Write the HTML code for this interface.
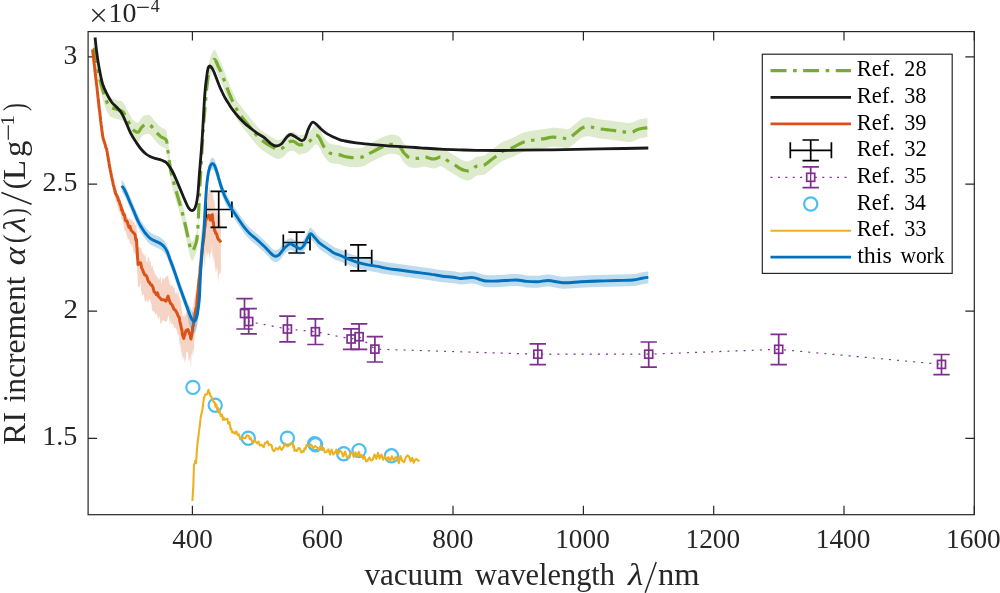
<!DOCTYPE html>
<html><head><meta charset="utf-8"><style>
html,body{margin:0;padding:0;background:#fff;width:1000px;height:593px;overflow:hidden;}
svg{display:block;font-family:"Liberation Serif",serif;will-change:transform;}
</style></head><body>
<svg width="1000" height="593" viewBox="0 0 1000 593">
<rect width="1000" height="593" fill="#fff"/>
<defs><clipPath id="ax"><rect x="88.1" y="31.6" width="886.2" height="483.1"/></clipPath></defs>
<rect x="88.1" y="31.6" width="886.2" height="483.1" fill="none" stroke="#262626" stroke-width="1.2"/>
<path d="M192.4,514.7 V505.7 M192.4,31.6 V40.6 M322.7,514.7 V505.7 M322.7,31.6 V40.6 M453.0,514.7 V505.7 M453.0,31.6 V40.6 M583.4,514.7 V505.7 M583.4,31.6 V40.6 M713.7,514.7 V505.7 M713.7,31.6 V40.6 M844.0,514.7 V505.7 M844.0,31.6 V40.6 M974.3,514.7 V505.7 M974.3,31.6 V40.6 M88.1,438.4 H97.1 M974.3,438.4 H965.3 M88.1,311.2 H97.1 M974.3,311.2 H965.3 M88.1,184.1 H97.1 M974.3,184.1 H965.3 M88.1,56.9 H97.1 M974.3,56.9 H965.3" stroke="#262626" stroke-width="1.2" fill="none"/>
<g clip-path="url(#ax)">
<path d="M93.6,34.8 C93.8,36.1 94.5,39.3 95.0,42.5 C95.5,45.7 95.9,49.5 96.7,54.2 C97.5,59.0 99.0,66.2 100.1,71.0 C101.2,75.8 102.4,79.2 103.5,82.8 C104.6,86.4 105.8,90.1 106.9,92.5 C108.0,94.9 109.1,96.2 110.2,97.3 C111.3,98.4 112.4,98.5 113.5,98.9 C114.6,99.3 115.9,99.6 117.0,99.9 C118.1,100.2 119.0,100.4 120.0,100.8 C121.0,101.2 121.8,100.8 123.0,102.3 C124.2,103.8 125.9,107.2 127.1,109.5 C128.3,111.8 129.4,114.2 130.4,116.0 C131.4,117.8 132.2,119.0 133.0,120.0 C133.8,121.0 134.5,121.6 135.4,122.0 C136.3,122.4 137.5,123.2 138.5,122.5 C139.5,121.8 140.4,119.2 141.5,118.0 C142.6,116.8 143.7,115.8 145.0,115.3 C146.3,114.8 147.9,114.5 149.1,114.9 C150.3,115.3 151.1,116.5 152.0,117.5 C152.9,118.5 153.2,119.4 154.7,121.0 C156.1,122.6 158.8,125.5 160.7,127.1 C162.6,128.7 165.1,128.4 166.2,130.4 C167.3,132.4 167.1,135.8 167.5,138.8 C167.9,141.8 168.5,145.3 168.9,148.3 C169.3,151.3 169.6,154.3 170.0,157.0 C170.4,159.7 171.0,162.2 171.5,164.5 C172.0,166.8 172.1,167.3 173.1,170.9 C174.1,174.5 176.0,181.1 177.5,186.2 C179.0,191.3 180.4,196.0 181.9,201.6 C183.4,207.2 185.2,215.2 186.3,220.0 C187.4,224.8 187.8,227.4 188.5,230.5 C189.2,233.6 189.8,236.7 190.4,238.5 C191.0,240.3 191.5,241.2 192.0,241.5 C192.5,241.8 193.1,240.9 193.6,240.0 C194.1,239.1 194.6,237.7 195.2,236.0 C195.8,234.3 196.4,233.2 196.9,230.0 C197.4,226.8 197.7,222.2 198.0,216.5 C198.3,210.8 198.5,206.0 199.0,195.5 C199.5,185.0 200.6,164.4 201.2,153.4 C201.8,142.4 202.3,136.1 202.7,129.3 C203.1,122.5 203.3,119.0 203.8,112.5 C204.3,106.0 205.1,97.3 205.7,90.5 C206.3,83.7 206.8,76.8 207.5,71.5 C208.2,66.2 209.2,61.8 210.0,58.5 C210.8,55.2 211.8,53.5 212.5,52.0 C213.2,50.5 213.8,49.8 214.4,49.8 C215.0,49.8 215.6,50.9 216.2,52.0 C216.8,53.1 217.1,54.5 218.0,56.4 C218.9,58.3 220.3,60.8 221.5,63.5 C222.7,66.2 223.8,69.8 225.0,72.9 C226.2,76.0 227.4,79.3 228.6,82.3 C229.8,85.2 230.7,87.6 232.1,90.6 C233.5,93.5 235.2,97.2 236.8,100.0 C238.4,102.8 240.0,104.9 241.6,107.1 C243.2,109.3 244.6,110.9 246.3,113.0 C248.0,115.1 249.6,117.1 251.6,119.6 C253.6,122.0 256.1,125.4 258.3,127.7 C260.6,129.9 262.9,131.5 265.1,133.1 C267.4,134.7 269.8,136.1 271.8,137.2 C273.8,138.3 275.4,139.7 277.2,139.9 C279.0,140.1 280.8,139.6 282.6,138.5 C284.4,137.4 286.2,134.2 288.0,133.1 C289.8,132.0 291.6,131.5 293.4,131.8 C295.2,132.2 297.0,134.8 298.8,135.2 C300.6,135.6 302.4,135.1 304.2,134.5 C306.0,133.9 307.8,133.3 309.6,131.8 C311.4,130.3 313.4,126.4 315.0,125.7 C316.6,125.0 317.8,126.0 319.1,127.7 C320.5,129.4 321.5,133.3 323.1,135.8 C324.7,138.3 326.7,141.1 328.5,142.6 C330.3,144.1 332.0,144.1 333.9,144.6 C335.8,145.1 338.1,145.0 340.0,145.4 C341.9,145.8 342.9,146.6 345.0,147.0 C347.1,147.4 349.7,148.0 352.4,148.1 C355.1,148.2 359.1,148.0 361.4,147.7 C363.7,147.3 364.6,146.7 366.0,146.0 C367.4,145.3 368.3,144.5 370.0,143.6 C371.7,142.7 373.9,141.6 376.0,140.5 C378.1,139.4 380.8,138.1 382.6,137.3 C384.4,136.5 385.6,135.9 387.0,135.5 C388.4,135.1 389.7,134.9 391.0,134.8 C392.3,134.7 393.6,134.8 395.0,135.1 C396.4,135.4 398.0,135.5 399.4,136.8 C400.8,138.1 402.4,141.4 403.6,142.9 C404.8,144.4 405.6,145.1 406.5,146.0 C407.4,146.9 408.1,147.6 409.2,148.1 C410.3,148.6 411.5,148.7 413.0,148.8 C414.5,148.9 416.5,148.9 418.0,148.8 C419.5,148.7 420.7,148.2 422.0,148.0 C423.3,147.8 424.8,147.6 426.0,147.7 C427.2,147.8 428.3,148.5 429.5,148.8 C430.7,149.1 431.8,149.5 433.0,149.5 C434.2,149.5 435.8,149.1 437.0,148.7 C438.2,148.3 439.3,147.3 440.5,147.3 C441.7,147.3 442.8,148.0 444.0,148.7 C445.2,149.4 446.2,150.3 448.0,151.5 C449.8,152.7 452.8,154.4 455.0,155.7 C457.2,157.0 459.3,158.6 461.0,159.5 C462.7,160.4 463.7,160.7 465.0,161.0 C466.3,161.3 467.4,161.6 468.7,161.3 C469.9,161.1 471.3,160.2 472.5,159.5 C473.7,158.8 474.7,157.4 476.0,156.9 C477.3,156.4 479.1,156.5 480.5,156.3 C481.9,156.1 482.8,156.3 484.4,155.5 C486.0,154.7 488.1,152.8 490.0,151.3 C491.9,149.8 494.1,148.2 496.0,146.7 C497.9,145.2 499.9,143.5 501.6,142.5 C503.3,141.5 504.2,141.2 506.0,140.5 C507.8,139.8 509.5,139.4 512.4,138.1 C515.3,136.8 519.6,134.0 523.2,132.7 C526.8,131.4 530.4,131.1 534.0,130.5 C537.6,129.9 541.8,129.6 544.8,129.1 C547.8,128.6 549.3,127.8 552.0,127.7 C554.7,127.5 558.3,128.0 561.0,128.2 C563.7,128.4 565.8,129.8 568.2,129.1 C570.6,128.3 573.0,125.5 575.4,123.7 C577.8,121.9 580.2,119.3 582.6,118.3 C585.0,117.2 587.1,117.2 589.8,117.4 C592.5,117.6 595.5,118.7 598.8,119.2 C602.1,119.7 606.0,120.0 609.6,120.5 C613.2,121.0 616.8,121.5 620.4,121.9 C624.0,122.3 628.2,123.2 631.2,122.8 C634.2,122.4 635.7,120.4 638.4,119.7 C641.1,118.9 645.9,118.5 647.4,118.3 L647.4,137.3 C645.9,137.5 641.1,137.9 638.4,138.7 C635.7,139.4 634.2,141.4 631.2,141.8 C628.2,142.2 624.0,141.3 620.4,140.9 C616.8,140.5 613.2,139.9 609.6,139.5 C606.0,139.1 602.1,138.7 598.8,138.2 C595.5,137.7 592.5,136.6 589.8,136.4 C587.1,136.2 585.0,136.2 582.6,137.3 C580.2,138.4 577.8,140.9 575.4,142.7 C573.0,144.5 570.6,147.3 568.2,148.1 C565.8,148.8 563.7,147.4 561.0,147.2 C558.3,147.0 554.7,146.5 552.0,146.7 C549.3,146.8 547.8,147.6 544.8,148.1 C541.8,148.6 537.6,148.9 534.0,149.5 C530.4,150.1 526.8,150.4 523.2,151.7 C519.6,153.0 515.3,155.8 512.4,157.1 C509.5,158.4 507.8,158.8 506.0,159.5 C504.2,160.2 503.3,160.5 501.6,161.5 C499.9,162.5 497.9,164.2 496.0,165.7 C494.1,167.2 491.9,168.8 490.0,170.3 C488.1,171.8 486.0,173.7 484.4,174.5 C482.8,175.3 481.9,175.1 480.5,175.3 C479.1,175.5 477.3,175.4 476.0,175.9 C474.7,176.4 473.7,177.8 472.5,178.5 C471.3,179.2 469.9,180.1 468.7,180.3 C467.4,180.6 466.3,180.3 465.0,180.0 C463.7,179.7 462.7,179.4 461.0,178.5 C459.3,177.6 457.2,176.0 455.0,174.7 C452.8,173.4 449.8,171.7 448.0,170.5 C446.2,169.3 445.2,168.4 444.0,167.7 C442.8,167.0 441.7,166.3 440.5,166.3 C439.3,166.3 438.2,167.3 437.0,167.7 C435.8,168.1 434.2,168.5 433.0,168.5 C431.8,168.5 430.7,168.1 429.5,167.8 C428.3,167.5 427.2,166.8 426.0,166.7 C424.8,166.6 423.3,166.8 422.0,167.0 C420.7,167.2 419.5,167.7 418.0,167.8 C416.5,167.9 414.5,167.9 413.0,167.8 C411.5,167.7 410.3,167.6 409.2,167.1 C408.1,166.6 407.4,165.9 406.5,165.0 C405.6,164.1 404.8,163.4 403.6,161.9 C402.4,160.4 400.8,157.1 399.4,155.8 C398.0,154.5 396.4,154.4 395.0,154.1 C393.6,153.8 392.3,153.7 391.0,153.8 C389.7,153.9 388.4,154.1 387.0,154.5 C385.6,154.9 384.4,155.5 382.6,156.3 C380.8,157.1 378.1,158.4 376.0,159.5 C373.9,160.6 371.7,161.7 370.0,162.6 C368.3,163.5 367.4,164.3 366.0,165.0 C364.6,165.7 363.7,166.3 361.4,166.7 C359.1,167.0 355.1,167.2 352.4,167.1 C349.7,167.0 347.1,166.4 345.0,166.0 C342.9,165.6 341.9,164.8 340.0,164.4 C338.1,164.0 335.8,164.1 333.9,163.6 C332.0,163.1 330.3,163.1 328.5,161.6 C326.7,160.1 324.7,157.3 323.1,154.8 C321.5,152.3 320.5,148.4 319.1,146.7 C317.8,145.0 316.6,144.0 315.0,144.7 C313.4,145.4 311.4,149.3 309.6,150.8 C307.8,152.3 306.0,152.9 304.2,153.5 C302.4,154.1 300.6,154.6 298.8,154.2 C297.0,153.8 295.2,151.2 293.4,150.8 C291.6,150.5 289.8,151.0 288.0,152.1 C286.2,153.2 284.4,156.4 282.6,157.5 C280.8,158.6 279.0,159.1 277.2,158.9 C275.4,158.7 273.8,157.3 271.8,156.2 C269.8,155.1 267.4,153.7 265.1,152.1 C262.9,150.5 260.6,148.9 258.3,146.7 C256.1,144.4 253.6,141.0 251.6,138.6 C249.6,136.2 248.0,134.1 246.3,132.0 C244.6,129.9 243.2,128.3 241.6,126.1 C240.0,123.9 238.4,121.8 236.8,119.0 C235.2,116.2 233.5,112.5 232.1,109.6 C230.7,106.6 229.8,104.2 228.6,101.3 C227.4,98.3 226.2,95.0 225.0,91.9 C223.8,88.8 222.7,85.2 221.5,82.5 C220.3,79.8 218.9,77.3 218.0,75.4 C217.1,73.5 216.8,72.1 216.2,71.0 C215.6,69.9 215.0,68.8 214.4,68.8 C213.8,68.8 213.2,69.5 212.5,71.0 C211.8,72.5 210.8,74.2 210.0,77.5 C209.2,80.8 208.2,85.2 207.5,90.5 C206.8,95.8 206.3,102.7 205.7,109.5 C205.1,116.3 204.3,125.0 203.8,131.5 C203.3,138.0 203.1,141.5 202.7,148.3 C202.3,155.1 201.8,161.4 201.2,172.4 C200.6,183.4 199.5,204.0 199.0,214.5 C198.5,225.0 198.3,229.8 198.0,235.5 C197.7,241.2 197.4,245.8 196.9,249.0 C196.4,252.2 195.8,253.3 195.2,255.0 C194.6,256.7 194.1,258.1 193.6,259.0 C193.1,259.9 192.5,260.8 192.0,260.5 C191.5,260.2 191.0,259.3 190.4,257.5 C189.8,255.7 189.2,252.6 188.5,249.5 C187.8,246.4 187.4,243.8 186.3,239.0 C185.2,234.2 183.4,226.2 181.9,220.6 C180.4,215.0 179.0,210.3 177.5,205.2 C176.0,200.1 174.1,193.5 173.1,189.9 C172.1,186.3 172.0,185.8 171.5,183.5 C171.0,181.2 170.4,178.7 170.0,176.0 C169.6,173.3 169.3,170.3 168.9,167.3 C168.5,164.3 167.9,160.8 167.5,157.8 C167.1,154.8 167.3,151.4 166.2,149.4 C165.1,147.4 162.6,147.7 160.7,146.1 C158.8,144.5 156.1,141.6 154.7,140.0 C153.2,138.4 152.9,137.5 152.0,136.5 C151.1,135.5 150.3,134.3 149.1,133.9 C147.9,133.5 146.3,133.8 145.0,134.3 C143.7,134.8 142.6,135.8 141.5,137.0 C140.4,138.2 139.5,140.8 138.5,141.5 C137.5,142.2 136.3,141.4 135.4,141.0 C134.5,140.6 133.8,140.0 133.0,139.0 C132.2,138.0 131.4,136.8 130.4,135.0 C129.4,133.2 128.3,130.8 127.1,128.5 C125.9,126.2 124.2,122.8 123.0,121.3 C121.8,119.8 121.0,120.2 120.0,119.8 C119.0,119.4 118.1,119.2 117.0,118.9 C115.9,118.6 114.6,118.3 113.5,117.9 C112.4,117.5 111.3,117.4 110.2,116.3 C109.1,115.2 108.0,113.9 106.9,111.5 C105.8,109.1 104.6,105.4 103.5,101.8 C102.4,98.2 101.2,94.8 100.1,90.0 C99.0,85.2 97.5,78.0 96.7,73.2 C95.9,68.5 95.5,64.7 95.0,61.5 C94.5,58.3 93.8,55.1 93.6,53.8 Z" fill="#77AC30" fill-opacity="0.25" stroke="none"/>
<path d="M93.6,44.3 C93.8,45.6 94.5,48.8 95.0,52.0 C95.5,55.2 95.9,59.0 96.7,63.7 C97.5,68.5 99.0,75.7 100.1,80.5 C101.2,85.3 102.4,88.7 103.5,92.3 C104.6,95.9 105.8,99.6 106.9,102.0 C108.0,104.4 109.1,105.7 110.2,106.8 C111.3,107.9 112.4,108.0 113.5,108.4 C114.6,108.8 115.9,109.1 117.0,109.4 C118.1,109.7 119.0,109.9 120.0,110.3 C121.0,110.7 121.8,110.3 123.0,111.8 C124.2,113.2 125.9,116.7 127.1,119.0 C128.3,121.3 129.4,123.8 130.4,125.5 C131.4,127.2 132.2,128.5 133.0,129.5 C133.8,130.5 134.5,131.1 135.4,131.5 C136.3,131.9 137.5,132.7 138.5,132.0 C139.5,131.3 140.4,128.7 141.5,127.5 C142.6,126.3 143.7,125.3 145.0,124.8 C146.3,124.3 147.9,124.0 149.1,124.4 C150.3,124.8 151.1,126.0 152.0,127.0 C152.9,128.0 153.2,128.9 154.7,130.5 C156.1,132.1 158.8,135.0 160.7,136.6 C162.6,138.2 165.1,137.9 166.2,139.9 C167.3,141.9 167.1,145.3 167.5,148.3 C167.9,151.3 168.5,154.8 168.9,157.8 C169.3,160.8 169.6,163.8 170.0,166.5 C170.4,169.2 171.0,171.7 171.5,174.0 C172.0,176.3 172.1,176.8 173.1,180.4 C174.1,184.0 176.0,190.6 177.5,195.7 C179.0,200.8 180.4,205.5 181.9,211.1 C183.4,216.7 185.2,224.7 186.3,229.5 C187.4,234.3 187.8,236.9 188.5,240.0 C189.2,243.1 189.8,246.2 190.4,248.0 C191.0,249.8 191.5,250.8 192.0,251.0 C192.5,251.2 193.1,250.4 193.6,249.5 C194.1,248.6 194.6,247.2 195.2,245.5 C195.8,243.8 196.4,242.8 196.9,239.5 C197.4,236.2 197.7,231.8 198.0,226.0 C198.3,220.2 198.5,215.5 199.0,205.0 C199.5,194.5 200.6,173.9 201.2,162.9 C201.8,151.9 202.3,145.6 202.7,138.8 C203.1,132.0 203.3,128.5 203.8,122.0 C204.3,115.5 205.1,106.8 205.7,100.0 C206.3,93.2 206.8,86.3 207.5,81.0 C208.2,75.7 209.2,71.2 210.0,68.0 C210.8,64.8 211.8,63.0 212.5,61.5 C213.2,60.0 213.8,59.3 214.4,59.3 C215.0,59.3 215.6,60.4 216.2,61.5 C216.8,62.6 217.1,64.0 218.0,65.9 C218.9,67.8 220.3,70.2 221.5,73.0 C222.7,75.8 223.8,79.3 225.0,82.4 C226.2,85.5 227.4,88.8 228.6,91.8 C229.8,94.8 230.7,97.1 232.1,100.1 C233.5,103.0 235.2,106.8 236.8,109.5 C238.4,112.2 240.0,114.4 241.6,116.6 C243.2,118.8 244.6,120.4 246.3,122.5 C248.0,124.6 249.6,126.6 251.6,129.1 C253.6,131.5 256.1,134.9 258.3,137.2 C260.6,139.4 262.9,141.0 265.1,142.6 C267.4,144.2 269.8,145.6 271.8,146.7 C273.8,147.8 275.4,149.2 277.2,149.4 C279.0,149.6 280.8,149.1 282.6,148.0 C284.4,146.9 286.2,143.7 288.0,142.6 C289.8,141.5 291.6,141.0 293.4,141.3 C295.2,141.7 297.0,144.2 298.8,144.7 C300.6,145.1 302.4,144.6 304.2,144.0 C306.0,143.4 307.8,142.8 309.6,141.3 C311.4,139.8 313.4,135.9 315.0,135.2 C316.6,134.5 317.8,135.5 319.1,137.2 C320.5,138.9 321.5,142.8 323.1,145.3 C324.7,147.8 326.7,150.6 328.5,152.1 C330.3,153.6 332.0,153.6 333.9,154.1 C335.8,154.6 338.1,154.5 340.0,154.9 C341.9,155.3 342.9,156.1 345.0,156.5 C347.1,156.9 349.7,157.5 352.4,157.6 C355.1,157.7 359.1,157.5 361.4,157.2 C363.7,156.8 364.6,156.2 366.0,155.5 C367.4,154.8 368.3,154.0 370.0,153.1 C371.7,152.2 373.9,151.1 376.0,150.0 C378.1,148.9 380.8,147.6 382.6,146.8 C384.4,146.0 385.6,145.4 387.0,145.0 C388.4,144.6 389.7,144.4 391.0,144.3 C392.3,144.2 393.6,144.3 395.0,144.6 C396.4,144.9 398.0,145.0 399.4,146.3 C400.8,147.6 402.4,150.9 403.6,152.4 C404.8,153.9 405.6,154.6 406.5,155.5 C407.4,156.4 408.1,157.1 409.2,157.6 C410.3,158.1 411.5,158.2 413.0,158.3 C414.5,158.4 416.5,158.4 418.0,158.3 C419.5,158.2 420.7,157.7 422.0,157.5 C423.3,157.3 424.8,157.1 426.0,157.2 C427.2,157.3 428.3,158.0 429.5,158.3 C430.7,158.6 431.8,159.0 433.0,159.0 C434.2,159.0 435.8,158.6 437.0,158.2 C438.2,157.8 439.3,156.8 440.5,156.8 C441.7,156.8 442.8,157.5 444.0,158.2 C445.2,158.9 446.2,159.8 448.0,161.0 C449.8,162.2 452.8,163.9 455.0,165.2 C457.2,166.5 459.3,168.1 461.0,169.0 C462.7,169.9 463.7,170.2 465.0,170.5 C466.3,170.8 467.4,171.1 468.7,170.8 C469.9,170.6 471.3,169.7 472.5,169.0 C473.7,168.3 474.7,166.9 476.0,166.4 C477.3,165.9 479.1,166.0 480.5,165.8 C481.9,165.6 482.8,165.8 484.4,165.0 C486.0,164.2 488.1,162.3 490.0,160.8 C491.9,159.3 494.1,157.7 496.0,156.2 C497.9,154.7 499.9,153.0 501.6,152.0 C503.3,151.0 504.2,150.7 506.0,150.0 C507.8,149.3 509.5,148.9 512.4,147.6 C515.3,146.3 519.6,143.5 523.2,142.2 C526.8,140.9 530.4,140.6 534.0,140.0 C537.6,139.4 541.8,139.1 544.8,138.6 C547.8,138.1 549.3,137.3 552.0,137.2 C554.7,137.0 558.3,137.5 561.0,137.7 C563.7,137.9 565.8,139.3 568.2,138.6 C570.6,137.8 573.0,135.0 575.4,133.2 C577.8,131.4 580.2,128.8 582.6,127.8 C585.0,126.8 587.1,126.8 589.8,126.9 C592.5,127.1 595.5,128.2 598.8,128.7 C602.1,129.2 606.0,129.6 609.6,130.0 C613.2,130.4 616.8,131.0 620.4,131.4 C624.0,131.8 628.2,132.7 631.2,132.3 C634.2,131.9 635.7,129.9 638.4,129.2 C641.1,128.4 645.9,128.0 647.4,127.8" fill="none" stroke="#77AC30" stroke-width="3.2" stroke-dasharray="15.5 6.5 3.5 6.5" stroke-dashoffset="-3.5"/>
<path d="M95.1,37.5 C95.4,39.9 96.0,46.7 96.7,51.9 C97.4,57.1 98.3,63.4 99.3,68.7 C100.3,74.0 101.3,79.7 102.6,83.9 C103.9,88.1 105.4,90.9 106.9,94.0 C108.5,97.1 110.2,100.2 111.9,102.5 C113.6,104.8 115.5,105.8 117.0,107.5 C118.5,109.2 119.8,110.3 121.2,112.6 C122.6,114.8 123.9,117.6 125.4,121.0 C127.0,124.4 128.7,129.3 130.5,132.8 C132.3,136.3 134.2,139.3 136.0,142.0 C137.8,144.7 139.3,147.0 141.0,149.0 C142.7,151.0 144.5,152.8 146.0,154.0 C147.5,155.2 148.5,155.7 150.0,156.4 C151.5,157.1 153.3,157.8 155.0,158.3 C156.7,158.8 158.6,159.2 160.0,159.6 C161.4,160.0 162.4,160.4 163.5,161.0 C164.6,161.6 165.2,161.3 166.6,162.9 C168.0,164.5 170.2,167.2 172.0,170.5 C173.8,173.8 175.7,178.4 177.5,182.6 C179.3,186.8 181.2,191.5 183.0,195.7 C184.8,199.9 187.0,205.3 188.5,207.8 C190.0,210.3 190.7,210.6 191.8,210.6 C192.9,210.6 194.1,210.3 195.1,207.8 C196.1,205.3 197.0,201.4 197.7,195.7 C198.4,190.0 198.8,181.1 199.4,173.8 C200.0,166.5 200.6,159.2 201.2,151.9 C201.8,144.6 202.1,139.7 202.7,130.0 C203.3,120.3 204.1,103.2 204.8,94.0 C205.5,84.8 206.3,79.5 206.9,75.1 C207.5,70.7 207.8,69.0 208.3,67.5 C208.8,66.0 209.1,65.9 209.7,65.9 C210.3,66.0 211.0,66.6 211.8,67.8 C212.6,69.0 213.4,70.6 214.4,73.0 C215.4,75.4 216.8,79.5 218.0,82.4 C219.2,85.4 220.3,88.2 221.5,90.7 C222.7,93.2 223.8,95.6 225.0,97.7 C226.2,99.8 227.2,101.4 228.6,103.6 C230.0,105.8 231.5,108.3 233.3,110.7 C235.1,113.1 237.2,115.6 239.2,117.8 C241.2,120.0 243.1,121.9 245.1,123.7 C247.1,125.5 249.0,126.8 251.0,128.4 C253.0,130.0 254.9,131.7 257.0,133.2 C259.1,134.7 261.4,135.5 263.7,137.2 C265.9,138.9 268.5,141.8 270.5,143.3 C272.5,144.8 274.1,145.9 275.9,146.0 C277.7,146.1 279.5,145.5 281.3,144.0 C283.1,142.5 285.1,138.8 286.7,137.2 C288.3,135.6 289.1,134.5 290.7,134.5 C292.3,134.5 294.3,136.2 296.1,137.2 C297.9,138.2 300.0,140.4 301.5,140.6 C303.0,140.8 303.8,140.5 304.9,138.6 C306.0,136.7 307.1,131.8 308.3,129.1 C309.5,126.4 311.0,123.2 312.3,122.4 C313.6,121.6 314.8,123.2 316.4,124.4 C318.0,125.6 320.0,128.2 321.8,129.8 C323.6,131.4 325.2,132.7 327.2,133.9 C329.2,135.1 331.8,136.2 333.9,137.2 C336.0,138.2 338.1,139.3 340.0,139.9 C341.9,140.5 342.3,140.5 345.0,141.0 C347.7,141.5 351.8,142.2 356.0,142.8 C360.2,143.4 364.7,143.8 370.0,144.3 C375.3,144.8 382.2,145.4 388.0,145.8 C393.8,146.2 399.7,146.5 405.0,146.8 C410.3,147.1 414.2,147.4 420.0,147.8 C425.8,148.2 432.7,148.8 440.0,149.2 C447.3,149.6 457.0,149.8 464.0,150.0 C471.0,150.2 476.0,150.3 482.0,150.4 C488.0,150.5 493.7,150.5 500.0,150.5 C506.3,150.5 511.3,150.3 520.0,150.2 C528.7,150.1 540.7,150.0 552.0,149.8 C563.3,149.6 576.0,149.4 588.0,149.2 C600.0,149.0 614.0,148.7 624.0,148.5 C634.0,148.3 644.2,148.1 648.3,148.0" fill="none" stroke="#1a1a1a" stroke-width="2.8" stroke-linejoin="round"/>
<path d="M92.6,46.6 L92.7,47.4 L92.9,48.9 L93.0,49.9 L93.2,51.1 L93.3,53.1 L93.4,54.5 L93.6,54.6 L93.7,56.6 L93.9,57.9 L94.0,58.1 L94.1,60.1 L94.3,60.8 L94.4,62.6 L94.6,63.6 L94.7,65.5 L94.8,66.0 L95.0,66.9 L95.1,68.7 L95.3,69.6 L95.4,70.9 L95.5,73.0 L95.7,73.3 L95.8,74.7 L96.0,76.4 L96.1,78.0 L96.2,78.1 L96.4,79.9 L96.5,80.8 L96.7,81.9 L96.8,83.4 L97.0,84.3 L97.1,86.4 L97.3,87.1 L97.4,88.8 L97.6,89.4 L97.7,90.8 L97.9,93.1 L98.0,94.3 L98.1,95.5 L98.3,95.6 L98.4,97.6 L98.6,98.6 L98.7,100.3 L98.8,101.3 L99.0,102.7 L99.1,104.0 L99.3,104.9 L99.4,106.1 L99.5,106.9 L99.7,108.4 L99.8,109.3 L100.0,110.7 L100.1,111.7 L100.3,113.4 L100.4,115.4 L100.6,115.7 L100.7,116.8 L100.9,118.2 L101.0,119.9 L101.2,121.0 L101.3,123.0 L101.5,123.4 L101.7,125.0 L101.8,126.7 L102.0,128.2 L102.2,128.4 L102.3,129.4 L102.5,132.0 L102.6,132.2 L102.8,134.0 L103.1,135.6 L103.5,136.6 L103.8,137.1 L104.2,138.1 L104.5,140.5 L105.0,140.9 L105.4,142.9 L105.8,143.2 L106.3,145.0 L106.5,145.5 L106.8,146.6 L107.0,148.6 L107.3,149.2 L107.5,151.5 L107.8,153.1 L108.0,153.7 L108.2,155.7 L108.4,156.6 L108.6,157.5 L108.8,158.4 L109.0,160.3 L109.2,161.7 L109.4,161.6 L109.6,163.7 L109.9,163.9 L110.1,165.3 L110.4,167.4 L110.7,168.5 L111.0,169.7 L111.2,170.8 L111.5,172.1 L111.8,173.3 L112.0,174.4 L112.3,175.0 L112.5,176.9 L112.8,178.2 L113.1,178.9 L113.3,180.9 L113.6,182.0 L113.9,181.9 L114.2,183.9 L114.5,185.0 L114.9,187.2 L115.2,187.6 L115.5,188.5 L116.0,190.6 L116.5,190.5 L116.9,191.5 L117.4,193.7 L117.9,193.6 L118.4,195.2 L119.0,196.0 L119.5,198.0 L120.0,198.5 L120.4,199.5 L120.9,202.3 L121.3,203.4 L121.8,203.1 L122.2,203.5 L122.7,206.5 L123.1,207.2 L123.6,208.1 L124.0,210.0 L124.5,211.1 L125.0,212.4 L125.5,213.4 L126.0,214.0 L126.5,215.9 L127.1,216.8 L127.8,216.7 L128.4,219.6 L129.0,218.5 L129.8,218.1 L130.6,219.9 L131.4,220.6 L132.2,218.3 L132.8,221.6 L133.3,222.6 L133.9,222.0 L134.5,221.2 L135.0,225.5 L135.5,225.0 L136.0,225.8 L136.5,223.4 L136.6,227.2 L136.7,225.7 L136.7,231.5 L136.8,231.6 L136.9,230.8 L137.0,230.4 L137.0,234.6 L137.1,237.3 L137.2,239.3 L137.3,237.7 L137.4,241.1 L137.5,238.0 L137.6,239.0 L137.6,244.7 L137.7,245.2 L137.8,242.6 L137.9,244.9 L138.0,244.9 L139.4,247.6 L140.8,248.6 L141.1,248.6 L141.4,245.7 L141.7,251.5 L142.0,252.2 L142.8,253.2 L143.7,254.7 L144.5,255.9 L145.2,252.7 L146.0,260.4 L147.0,262.8 L148.0,256.1 L148.6,257.8 L149.2,258.0 L149.7,263.8 L150.3,260.6 L150.9,261.9 L151.4,269.0 L151.9,265.7 L152.5,266.0 L153.0,268.6 L154.1,271.2 L155.2,274.5 L156.3,275.4 L157.5,277.7 L158.2,280.1 L158.8,276.7 L159.5,280.2 L160.5,276.6 L161.5,283.8 L162.7,277.2 L163.8,279.7 L166.0,276.9 L167.1,276.1 L168.1,275.1 L168.7,278.9 L169.3,284.8 L169.9,279.7 L170.5,285.7 L171.4,286.0 L172.4,284.3 L172.9,286.5 L173.5,288.6 L174.0,285.2 L174.6,289.2 L175.2,292.7 L176.1,294.5 L177.0,290.4 L177.7,294.8 L178.3,291.1 L179.0,296.3 L179.2,299.1 L179.5,297.2 L179.8,295.9 L180.0,303.3 L180.2,298.8 L180.5,298.9 L180.8,301.2 L181.0,302.4 L181.3,311.4 L181.5,306.8 L181.8,305.9 L182.2,315.1 L182.6,314.5 L183.0,316.0 L183.4,314.9 L183.8,317.1 L184.2,315.5 L184.5,311.5 L184.8,317.7 L185.2,316.0 L185.7,314.0 L186.2,312.7 L186.7,311.9 L188.0,305.4 L188.8,307.6 L189.6,316.0 L189.9,313.6 L190.3,316.8 L190.7,318.2 L191.0,319.3 L191.2,315.2 L191.4,314.5 L191.6,315.3 L191.9,315.6 L192.1,313.0 L192.3,313.7 L192.5,308.3 L192.7,305.4 L193.0,307.3 L193.2,308.7 L193.4,306.4 L193.7,303.3 L193.9,299.7 L194.1,300.4 L194.2,302.4 L194.4,297.8 L194.6,298.0 L194.8,298.3 L195.0,297.5 L195.1,295.3 L195.3,292.4 L195.5,293.4 L195.8,290.0 L196.0,290.7 L196.2,291.2 L196.5,287.6 L196.7,285.1 L196.8,288.9 L196.9,284.9 L197.0,283.6 L197.1,278.8 L197.2,277.1 L197.3,280.4 L197.5,274.9 L197.6,274.6 L197.7,277.6 L197.8,274.7 L197.9,276.2 L198.0,269.5 L198.1,269.4 L198.3,266.4 L198.4,265.8 L198.6,265.6 L198.7,263.8 L198.9,263.9 L199.0,260.2 L199.2,253.4 L199.3,258.7 L199.5,255.9 L199.6,247.5 L199.7,254.5 L199.9,252.8 L200.0,251.5 L200.1,241.5 L200.2,248.2 L200.4,248.8 L200.5,238.3 L200.6,245.3 L200.7,235.9 L200.9,236.6 L201.0,233.6 L201.1,231.1 L201.2,234.1 L201.4,230.4 L201.5,237.8 L201.6,228.3 L201.8,230.0 L201.9,226.5 L202.0,232.1 L202.2,223.7 L202.3,220.3 L202.4,229.0 L202.6,224.8 L202.7,220.9 L202.8,216.7 L203.0,222.1 L203.1,221.5 L203.2,219.5 L203.4,214.2 L203.5,211.4 L203.6,214.2 L203.8,213.3 L203.9,211.8 L204.0,211.0 L204.2,209.0 L204.3,211.5 L204.5,205.5 L204.6,198.9 L204.8,203.9 L204.9,198.9 L205.1,204.2 L205.2,197.0 L205.4,195.0 L205.5,194.6 L205.8,195.1 L206.2,194.3 L206.5,191.2 L206.8,187.1 L207.7,194.2 L208.5,193.5 L209.1,187.6 L209.7,187.1 L210.3,193.1 L210.9,192.5 L211.5,187.9 L212.1,192.4 L212.3,192.8 L212.5,194.8 L212.7,191.8 L212.9,196.1 L213.0,198.3 L213.2,194.4 L213.4,192.7 L213.6,201.4 L213.8,198.1 L214.1,202.6 L214.4,198.8 L214.7,203.0 L215.0,207.8 L215.3,209.5 L215.6,212.9 L216.3,209.0 L216.9,211.5 L217.6,215.2 L218.3,214.4 L219.2,216.0 L220.0,212.0 L220.9,220.3 L220.9,270.3 L220.0,275.2 L219.2,272.4 L218.3,282.8 L217.6,270.2 L216.9,266.5 L216.3,272.0 L215.6,271.4 L215.3,266.3 L215.0,270.6 L214.7,266.2 L214.4,256.6 L214.1,262.6 L213.8,259.0 L213.6,253.0 L213.4,263.1 L213.2,257.3 L213.0,257.3 L212.9,250.2 L212.7,259.5 L212.5,254.4 L212.3,257.3 L212.1,243.4 L211.5,250.7 L210.9,254.9 L210.3,251.9 L209.7,259.6 L209.1,256.2 L208.5,252.7 L207.7,253.6 L206.8,258.7 L206.5,249.3 L206.2,254.8 L205.8,249.4 L205.5,264.8 L205.4,253.9 L205.2,268.6 L205.1,253.4 L204.9,256.2 L204.8,270.0 L204.6,258.2 L204.5,261.2 L204.3,262.6 L204.2,270.0 L204.0,275.7 L203.9,256.6 L203.8,259.5 L203.6,257.3 L203.5,259.9 L203.4,257.8 L203.2,266.2 L203.1,260.3 L203.0,259.5 L202.8,266.2 L202.7,268.0 L202.6,264.5 L202.4,264.7 L202.3,267.8 L202.2,272.9 L202.0,268.7 L201.9,270.2 L201.8,275.8 L201.6,272.6 L201.5,281.9 L201.4,277.8 L201.2,275.9 L201.1,280.0 L201.0,280.8 L200.9,285.8 L200.7,288.6 L200.6,285.5 L200.5,290.7 L200.4,292.0 L200.2,290.9 L200.1,294.1 L200.0,289.5 L199.9,289.3 L199.7,296.1 L199.6,298.1 L199.5,296.5 L199.3,293.6 L199.2,301.4 L199.0,297.4 L198.9,301.8 L198.7,302.1 L198.6,306.5 L198.4,306.8 L198.3,309.1 L198.1,305.2 L198.0,307.4 L197.9,310.6 L197.8,314.7 L197.7,310.7 L197.6,313.7 L197.5,314.4 L197.3,321.0 L197.2,318.7 L197.1,322.6 L197.0,322.8 L196.9,324.1 L196.8,320.0 L196.7,328.4 L196.5,327.2 L196.2,325.1 L196.0,326.9 L195.8,325.5 L195.5,333.7 L195.3,329.6 L195.1,328.9 L195.0,338.3 L194.8,336.3 L194.6,334.7 L194.4,333.3 L194.2,343.2 L194.1,344.2 L193.9,350.6 L193.7,348.0 L193.4,355.4 L193.2,347.3 L193.0,357.2 L192.7,355.6 L192.5,349.6 L192.3,350.7 L192.1,353.6 L191.9,353.9 L191.6,354.5 L191.4,355.5 L191.2,364.0 L191.0,369.8 L190.7,364.9 L190.3,356.3 L189.9,357.9 L189.6,359.9 L188.8,361.0 L188.0,353.2 L186.7,351.0 L186.2,352.9 L185.7,362.0 L185.2,357.6 L184.8,362.7 L184.5,357.6 L184.2,364.3 L183.8,357.2 L183.4,356.8 L183.0,358.2 L182.6,360.0 L182.2,352.9 L181.8,355.2 L181.5,349.3 L181.3,349.5 L181.0,357.3 L180.8,344.6 L180.5,347.8 L180.2,346.5 L180.0,340.9 L179.8,347.6 L179.5,342.6 L179.2,341.8 L179.0,335.3 L178.3,334.6 L177.7,335.4 L177.0,330.8 L176.1,329.1 L175.2,327.2 L174.6,327.5 L174.0,328.7 L173.5,325.2 L172.9,324.5 L172.4,323.2 L171.4,324.7 L170.5,320.0 L169.9,325.6 L169.3,318.4 L168.7,315.1 L168.1,316.3 L167.1,321.3 L166.0,321.6 L163.8,320.8 L162.7,320.1 L161.5,323.1 L160.5,324.2 L159.5,315.9 L158.8,317.2 L158.2,320.0 L157.5,315.9 L156.3,312.8 L155.2,315.1 L154.1,311.3 L153.0,311.2 L152.5,311.8 L151.9,308.5 L151.4,303.9 L150.9,303.2 L150.3,300.8 L149.7,299.2 L149.2,298.8 L148.6,301.6 L148.0,303.4 L147.0,298.8 L146.0,302.1 L145.2,301.7 L144.5,299.2 L143.7,293.2 L142.8,295.9 L142.0,294.1 L141.7,294.9 L141.4,290.1 L141.1,291.4 L140.8,282.4 L139.4,287.1 L138.0,287.1 L137.9,280.4 L137.8,285.0 L137.7,279.9 L137.6,274.1 L137.6,274.3 L137.5,274.3 L137.4,270.0 L137.3,274.2 L137.2,274.5 L137.1,266.9 L137.0,272.7 L137.0,272.0 L136.9,266.9 L136.8,264.4 L136.7,264.9 L136.7,262.2 L136.6,256.5 L136.5,259.7 L136.0,254.9 L135.5,255.7 L135.0,254.6 L134.5,252.7 L133.9,252.5 L133.3,251.7 L132.8,243.8 L132.2,248.0 L131.4,245.4 L130.6,242.9 L129.8,243.9 L129.0,238.4 L128.4,239.4 L127.8,239.7 L127.1,236.1 L126.5,234.4 L126.0,232.8 L125.5,230.3 L125.0,232.1 L124.5,230.2 L124.0,228.2 L123.6,222.5 L123.1,225.1 L122.7,220.8 L122.2,219.1 L121.8,219.6 L121.3,217.9 L120.9,214.9 L120.4,214.5 L120.0,211.9 L119.5,212.4 L119.0,211.5 L118.4,210.2 L117.9,208.3 L117.4,205.6 L116.9,203.4 L116.5,202.0 L116.0,202.8 L115.5,201.7 L115.2,197.9 L114.9,196.5 L114.5,195.7 L114.2,193.9 L113.9,195.0 L113.6,192.0 L113.3,192.0 L113.1,190.0 L112.8,188.2 L112.5,186.7 L112.3,185.4 L112.0,185.3 L111.8,182.5 L111.5,181.9 L111.2,179.2 L111.0,180.0 L110.7,177.3 L110.4,175.5 L110.1,174.4 L109.9,173.9 L109.6,172.0 L109.4,171.2 L109.2,169.7 L109.0,166.9 L108.8,165.9 L108.6,164.9 L108.4,163.9 L108.2,163.0 L108.0,161.5 L107.8,160.3 L107.5,159.2 L107.3,157.1 L107.0,155.4 L106.8,155.8 L106.5,152.8 L106.3,152.6 L105.8,151.9 L105.4,149.1 L105.0,148.9 L104.5,147.7 L104.2,145.5 L103.8,145.1 L103.5,144.2 L103.1,143.1 L102.8,141.1 L102.6,140.2 L102.5,138.1 L102.3,137.7 L102.2,136.8 L102.0,136.1 L101.8,134.4 L101.7,132.1 L101.5,132.0 L101.3,130.4 L101.2,129.2 L101.0,127.1 L100.9,126.8 L100.7,125.6 L100.6,123.5 L100.4,123.4 L100.3,120.4 L100.1,120.8 L100.0,119.5 L99.8,116.7 L99.7,116.6 L99.5,114.5 L99.4,112.9 L99.3,112.6 L99.1,111.0 L99.0,111.0 L98.8,109.0 L98.7,106.9 L98.6,106.3 L98.4,104.9 L98.3,103.5 L98.1,101.5 L98.0,101.7 L97.9,100.3 L97.7,98.5 L97.6,97.1 L97.4,97.0 L97.3,94.1 L97.1,92.9 L97.0,93.0 L96.8,91.0 L96.7,89.5 L96.5,89.4 L96.4,86.9 L96.2,87.0 L96.1,85.6 L96.0,84.1 L95.8,81.7 L95.7,80.6 L95.5,79.3 L95.4,78.1 L95.3,78.2 L95.1,77.2 L95.0,75.4 L94.8,74.2 L94.7,72.0 L94.6,70.7 L94.4,70.0 L94.3,69.8 L94.1,68.1 L94.0,66.1 L93.9,65.8 L93.7,64.3 L93.6,62.5 L93.4,61.4 L93.3,60.7 L93.2,59.5 L93.0,57.5 L92.9,56.5 L92.7,55.0 L92.6,54.8 Z" fill="#D95319" fill-opacity="0.25" stroke="none"/>
<path d="M92.6,49.3 L92.8,51.1 L92.9,53.1 L93.1,54.1 L93.3,55.7 L93.5,57.4 L93.7,58.4 L93.8,60.4 L94.0,62.2 L94.2,63.9 L94.3,64.5 L94.5,66.4 L94.7,67.6 L94.9,70.1 L95.0,71.5 L95.2,72.2 L95.4,75.0 L95.6,76.5 L95.8,77.6 L95.9,79.1 L96.1,80.0 L96.3,81.3 L96.4,83.5 L96.6,84.4 L96.8,86.1 L97.0,87.6 L97.1,88.9 L97.3,91.0 L97.5,92.4 L97.7,94.5 L97.8,95.5 L98.0,97.2 L98.2,98.5 L98.3,100.3 L98.5,101.6 L98.7,102.9 L98.9,105.4 L99.0,107.0 L99.2,108.3 L99.4,109.7 L99.6,110.7 L99.8,112.1 L99.9,113.8 L100.1,115.0 L100.3,117.6 L100.5,118.7 L100.7,121.0 L100.9,122.0 L101.1,124.4 L101.3,125.8 L101.5,126.3 L101.7,128.3 L101.9,130.9 L102.2,132.0 L102.4,134.4 L102.6,135.3 L102.8,136.5 L103.2,138.8 L103.7,140.4 L104.1,141.2 L104.5,142.4 L105.1,144.4 L105.7,146.9 L106.3,148.3 L106.6,148.9 L106.9,150.6 L107.2,151.9 L107.4,153.4 L107.7,155.9 L108.0,156.6 L108.3,158.7 L108.5,160.2 L108.8,161.5 L109.1,163.8 L109.3,164.7 L109.6,167.0 L109.9,167.8 L110.2,169.8 L110.5,171.0 L110.9,172.6 L111.2,175.1 L111.5,176.4 L111.8,177.4 L112.2,179.8 L112.5,180.5 L112.9,182.3 L113.2,184.6 L113.6,185.9 L114.0,186.6 L114.4,189.3 L114.7,189.7 L115.1,191.2 L115.5,193.4 L116.1,194.2 L116.7,195.5 L117.3,196.6 L117.9,198.0 L118.6,200.7 L119.3,201.3 L120.0,204.3 L120.5,205.1 L121.1,206.9 L121.7,210.1 L122.2,210.0 L122.8,212.0 L123.3,214.5 L123.9,213.8 L124.5,215.3 L125.2,219.6 L125.8,220.9 L126.5,220.6 L127.3,221.9 L128.2,225.3 L129.0,227.5 L130.1,226.3 L131.1,230.3 L132.2,231.4 L133.0,232.1 L133.7,233.1 L134.5,233.7 L135.2,235.2 L135.8,240.0 L136.5,239.3 L136.6,242.6 L136.7,242.7 L136.8,246.4 L136.9,247.3 L137.0,247.9 L137.1,249.2 L137.2,252.7 L137.3,252.1 L137.4,254.2 L137.5,257.0 L137.7,259.5 L137.8,260.3 L137.9,260.8 L138.0,264.5 L139.4,262.8 L140.8,262.9 L141.2,265.5 L141.6,268.0 L142.0,268.5 L142.8,270.4 L143.7,272.7 L144.8,275.0 L146.0,275.2 L147.0,277.2 L148.0,280.2 L148.7,282.0 L149.4,282.3 L150.2,283.8 L150.9,284.9 L151.6,284.8 L152.3,286.0 L153.0,287.4 L154.1,291.8 L155.2,292.5 L156.3,294.7 L157.5,292.9 L158.5,296.5 L159.5,297.4 L161.5,299.8 L163.8,299.8 L166.0,301.2 L168.1,296.1 L168.9,299.2 L169.7,301.3 L170.5,303.4 L171.4,304.2 L172.4,305.4 L173.2,307.3 L174.0,309.4 L175.2,309.9 L177.0,313.1 L178.0,315.7 L179.0,317.4 L179.3,317.4 L179.6,320.2 L179.9,322.1 L180.2,322.7 L180.5,324.4 L180.8,325.2 L181.2,327.5 L181.5,329.2 L181.8,329.1 L182.2,332.5 L182.6,335.2 L183.0,336.3 L183.8,338.4 L184.3,335.7 L184.7,335.3 L185.2,333.3 L185.9,330.8 L186.7,330.2 L188.0,329.6 L189.6,334.2 L190.1,333.6 L190.5,337.5 L191.0,339.0 L191.2,336.7 L191.5,336.7 L191.8,334.5 L192.0,333.4 L192.2,332.9 L192.5,329.2 L192.8,326.7 L193.1,326.1 L193.3,325.7 L193.6,322.5 L193.9,320.8 L194.1,321.6 L194.4,319.1 L194.6,316.8 L194.8,316.6 L195.1,313.1 L195.3,312.6 L195.7,309.1 L196.0,308.1 L196.3,307.6 L196.7,306.1 L196.8,304.4 L197.0,301.0 L197.1,300.1 L197.3,297.5 L197.4,295.3 L197.6,294.9 L197.7,294.4 L197.9,292.8 L198.0,290.7 L198.2,290.0 L198.4,286.1 L198.5,284.2 L198.7,283.6 L198.9,281.5 L199.1,279.7 L199.2,278.8 L199.4,278.0 L199.6,276.0 L199.8,273.9 L199.9,274.2 L200.1,273.1 L200.2,269.8 L200.4,267.1 L200.6,265.4 L200.7,266.8 L200.9,262.4 L201.0,263.2 L201.2,261.2 L201.3,258.9 L201.5,259.0 L201.7,254.8 L201.8,253.6 L202.0,253.1 L202.2,250.1 L202.4,251.3 L202.5,247.7 L202.7,245.8 L202.9,243.9 L203.0,244.3 L203.2,242.1 L203.4,241.2 L203.6,239.7 L203.7,238.6 L203.9,237.6 L204.1,235.1 L204.3,231.9 L204.4,231.2 L204.6,228.7 L204.8,226.6 L205.0,226.6 L205.1,225.8 L205.3,222.5 L205.5,221.2 L205.9,219.8 L206.4,219.3 L206.8,217.1 L207.7,216.0 L208.5,215.2 L209.1,215.4 L209.7,218.2 L210.3,220.1 L210.9,215.8 L211.5,217.2 L212.1,215.1 L212.3,214.7 L212.6,217.4 L212.8,219.7 L213.1,222.3 L213.3,222.1 L213.6,224.4 L213.8,227.1 L214.2,228.6 L214.7,230.9 L215.2,231.0 L215.6,233.4 L216.5,233.7 L217.4,237.2 L218.3,239.3 L219.6,240.4 L220.9,242.4" fill="none" stroke="#D95319" stroke-width="3.0" stroke-linejoin="round"/>
<path d="M218.7,191.4 V227.4 M210.5,191.4 H226.9 M210.5,227.4 H226.9 M206.1,209.5 H231.9 M206.1,201.5 V217.5 M231.9,201.5 V217.5" stroke="#000" stroke-width="1.7" fill="none"/>
<path d="M296.6,232.1 V253.0 M288.4,232.1 H304.8 M288.4,253.0 H304.8 M283.3,242.5 H310.0 M283.3,234.5 V250.5 M310.0,234.5 V250.5" stroke="#000" stroke-width="1.7" fill="none"/>
<path d="M358.3,244.8 V270.8 M350.1,244.8 H366.5 M350.1,270.8 H366.5 M345.6,257.8 H371.7 M345.6,249.8 V265.8 M371.7,249.8 V265.8" stroke="#000" stroke-width="1.7" fill="none"/>
<path d="M244.5,313.5 L248.7,321.5 L287.4,329.0 L315.4,331.7 L351.1,339.0 L359.1,336.7 L374.9,349.1 L537.8,354.2 L648.7,354.2 L778.7,349.3 L941.5,364.4" fill="none" stroke="#7E2F8E" stroke-width="1.2" stroke-dasharray="2 6.1"/>
<path d="M244.5,298.6 V329.0 M236.3,298.6 H252.7 M236.3,329.0 H252.7" stroke="#7E2F8E" stroke-width="1.7" fill="none"/>
<rect x="240.5" y="309.5" width="8" height="8" fill="none" stroke="#7E2F8E" stroke-width="1.7"/>
<path d="M248.7,308.7 V333.8 M240.5,308.7 H256.9 M240.5,333.8 H256.9" stroke="#7E2F8E" stroke-width="1.7" fill="none"/>
<rect x="244.7" y="317.5" width="8" height="8" fill="none" stroke="#7E2F8E" stroke-width="1.7"/>
<path d="M287.4,316.2 V341.8 M279.2,316.2 H295.6 M279.2,341.8 H295.6" stroke="#7E2F8E" stroke-width="1.7" fill="none"/>
<rect x="283.4" y="325.0" width="8" height="8" fill="none" stroke="#7E2F8E" stroke-width="1.7"/>
<path d="M315.4,318.9 V344.5 M307.2,318.9 H323.6 M307.2,344.5 H323.6" stroke="#7E2F8E" stroke-width="1.7" fill="none"/>
<rect x="311.4" y="327.7" width="8" height="8" fill="none" stroke="#7E2F8E" stroke-width="1.7"/>
<path d="M351.1,328.9 V349.4 M342.9,328.9 H359.3 M342.9,349.4 H359.3" stroke="#7E2F8E" stroke-width="1.7" fill="none"/>
<rect x="347.1" y="335.0" width="8" height="8" fill="none" stroke="#7E2F8E" stroke-width="1.7"/>
<path d="M359.1,323.8 V349.4 M350.9,323.8 H367.3 M350.9,349.4 H367.3" stroke="#7E2F8E" stroke-width="1.7" fill="none"/>
<rect x="355.1" y="332.7" width="8" height="8" fill="none" stroke="#7E2F8E" stroke-width="1.7"/>
<path d="M374.9,336.7 V362.0 M366.7,336.7 H383.1 M366.7,362.0 H383.1" stroke="#7E2F8E" stroke-width="1.7" fill="none"/>
<rect x="370.9" y="345.1" width="8" height="8" fill="none" stroke="#7E2F8E" stroke-width="1.7"/>
<path d="M537.8,343.9 V364.6 M529.6,343.9 H546.0 M529.6,364.6 H546.0" stroke="#7E2F8E" stroke-width="1.7" fill="none"/>
<rect x="533.8" y="350.2" width="8" height="8" fill="none" stroke="#7E2F8E" stroke-width="1.7"/>
<path d="M648.7,342.0 V367.2 M640.5,342.0 H656.9 M640.5,367.2 H656.9" stroke="#7E2F8E" stroke-width="1.7" fill="none"/>
<rect x="644.7" y="350.2" width="8" height="8" fill="none" stroke="#7E2F8E" stroke-width="1.7"/>
<path d="M778.7,334.3 V364.7 M770.5,334.3 H786.9 M770.5,364.7 H786.9" stroke="#7E2F8E" stroke-width="1.7" fill="none"/>
<rect x="774.7" y="345.3" width="8" height="8" fill="none" stroke="#7E2F8E" stroke-width="1.7"/>
<path d="M941.5,354.5 V374.6 M933.3,354.5 H949.7 M933.3,374.6 H949.7" stroke="#7E2F8E" stroke-width="1.7" fill="none"/>
<rect x="937.5" y="360.4" width="8" height="8" fill="none" stroke="#7E2F8E" stroke-width="1.7"/>
<circle cx="192.9" cy="387.4" r="6.6" fill="none" stroke="#4DBEEE" stroke-width="2.2"/>
<circle cx="215.2" cy="405.2" r="6.6" fill="none" stroke="#4DBEEE" stroke-width="2.2"/>
<circle cx="248.3" cy="438.2" r="6.6" fill="none" stroke="#4DBEEE" stroke-width="2.2"/>
<circle cx="287.4" cy="438.2" r="6.6" fill="none" stroke="#4DBEEE" stroke-width="2.2"/>
<circle cx="314.7" cy="443.7" r="6.6" fill="none" stroke="#4DBEEE" stroke-width="2.2"/>
<circle cx="315.6" cy="444.7" r="6.6" fill="none" stroke="#4DBEEE" stroke-width="2.2"/>
<circle cx="343.7" cy="453.7" r="6.6" fill="none" stroke="#4DBEEE" stroke-width="2.2"/>
<circle cx="359.0" cy="450.6" r="6.6" fill="none" stroke="#4DBEEE" stroke-width="2.2"/>
<circle cx="391.5" cy="455.8" r="6.6" fill="none" stroke="#4DBEEE" stroke-width="2.2"/>
<path d="M192.4,501.0 L192.5,500.0 L192.6,497.6 L192.7,496.5 L192.8,494.8 L192.9,493.0 L193.0,491.0 L193.1,489.7 L193.2,487.6 L193.3,486.5 L193.4,484.3 L193.4,482.9 L193.5,481.0 L193.5,479.8 L193.6,477.6 L193.6,475.8 L193.7,474.9 L193.7,472.5 L193.8,471.5 L193.8,469.1 L193.9,467.7 L193.9,466.3 L194.3,464.4 L194.8,463.0 L195.2,460.7 L196.0,463.2 L196.1,461.6 L196.2,459.6 L196.4,458.3 L196.5,456.7 L196.6,454.7 L196.7,453.7 L196.8,451.5 L196.9,450.3 L197.1,448.2 L197.2,447.3 L197.3,445.8 L197.5,443.5 L197.7,442.3 L197.9,439.9 L198.2,438.8 L198.4,436.4 L198.6,435.2 L198.8,432.9 L199.0,431.9 L199.2,429.6 L199.5,428.2 L199.7,426.2 L199.9,425.0 L200.1,422.7 L200.3,420.8 L200.5,419.4 L200.7,417.2 L201.1,415.9 L201.5,413.5 L201.8,412.3 L202.2,410.3 L202.6,408.0 L202.8,407.0 L203.0,404.7 L203.2,403.5 L203.5,401.2 L203.7,399.4 L203.9,397.8 L204.6,396.7 L205.2,394.6 L207.2,394.2 L207.8,391.8 L208.5,389.9 L209.1,392.1 L209.8,393.5 L210.4,395.8 L211.3,396.8 L212.1,399.2 L213.0,400.3 L213.8,402.4 L214.7,402.2 L215.5,406.7 L216.3,404.4 L217.1,409.4 L217.9,408.0 L218.7,412.5 L219.5,410.4 L220.8,416.1 L222.1,414.6 L223.0,419.9 L223.8,417.7 L224.7,419.7 L227.3,418.7 L228.3,423.8 L229.3,422.1 L229.9,424.4 L230.6,429.2 L231.2,428.4 L232.2,432.6 L233.2,431.9 L235.1,433.6 L236.4,431.4 L237.7,435.2 L239.0,434.4 L240.3,439.4 L242.9,437.7 L245.5,437.9 L246.8,435.3 L248.1,435.9 L249.0,436.0 L249.8,439.3 L250.7,438.1 L252.6,442.6 L254.6,440.4 L257.2,443.4 L258.5,441.6 L259.8,445.4 L261.8,444.8 L263.7,447.2 L265.0,442.9 L266.3,442.7 L267.6,441.3 L268.9,445.2 L270.2,444.4 L271.5,445.2 L272.8,450.2 L274.1,451.2 L276.1,448.2 L278.0,449.4 L279.7,446.7 L281.5,449.9 L283.2,447.7 L284.1,446.0 L284.9,443.6 L285.8,445.2 L287.8,446.5 L289.7,445.0 L291.0,443.2 L292.3,444.2 L292.8,443.0 L293.3,447.3 L293.9,446.0 L294.4,451.0 L294.9,449.2 L296.9,450.9 L298.8,447.9 L300.1,449.0 L301.4,452.6 L302.7,451.1 L303.7,451.7 L304.6,448.3 L305.6,448.8 L306.6,444.7 L309.2,445.9 L311.1,444.6 L313.1,448.3 L315.1,446.0 L317.0,447.3 L318.9,449.9 L320.9,445.9 L322.2,450.3 L323.5,447.9 L324.8,452.5 L326.5,452.1 L328.3,449.4 L330.0,454.3 L331.6,449.5 L333.2,454.4 L334.8,452.9 L336.4,449.7 L338.1,454.0 L339.9,450.5 L341.6,452.2 L343.3,456.5 L345.1,451.6 L346.8,457.2 L348.5,457.7 L350.3,453.2 L352.0,452.5 L353.7,456.9 L355.5,452.3 L357.2,456.4 L358.7,451.8 L360.2,456.3 L361.7,455.1 L363.1,458.7 L364.6,456.9 L366.1,461.5 L367.6,460.8 L369.3,457.5 L371.1,460.5 L372.8,459.5 L374.5,454.5 L376.3,458.9 L378.0,452.7 L379.7,458.6 L381.5,454.5 L383.2,459.8 L384.9,456.4 L386.7,459.7 L388.4,457.2 L390.1,461.1 L391.9,456.3 L393.6,460.2 L395.3,457.5 L397.1,456.9 L398.8,463.3 L400.5,456.1 L402.3,460.8 L404.0,462.3 L405.7,457.5 L407.5,455.4 L409.2,456.9 L410.7,461.3 L412.2,457.8 L413.7,462.8 L415.1,459.9 L416.6,459.0 L418.1,460.4 L419.6,460.9" fill="none" stroke="#EDB120" stroke-width="2.1" stroke-linejoin="round"/>
<path d="M121.7,179.8 C122.0,180.2 123.1,181.4 123.8,182.5 C124.5,183.6 125.1,185.1 125.8,186.5 C126.5,187.9 127.1,189.4 127.8,191.0 C128.5,192.6 129.1,194.4 129.8,196.0 C130.5,197.6 131.1,198.9 131.8,200.5 C132.5,202.1 133.2,203.8 133.9,205.4 C134.6,207.0 135.2,208.6 135.9,210.2 C136.6,211.8 137.1,213.2 137.9,214.8 C138.7,216.4 139.6,218.2 140.5,219.8 C141.4,221.4 142.4,222.9 143.3,224.3 C144.2,225.7 145.1,226.9 146.0,228.0 C146.9,229.1 147.7,230.1 148.7,231.0 C149.7,231.9 150.9,232.8 152.0,233.5 C153.1,234.2 154.4,234.6 155.4,235.1 C156.4,235.6 157.1,235.9 158.0,236.3 C158.9,236.8 160.0,237.3 160.8,237.8 C161.6,238.3 162.3,238.8 163.0,239.5 C163.7,240.2 164.3,240.9 164.9,241.8 C165.5,242.7 166.1,243.7 166.7,244.8 C167.3,245.9 167.8,247.1 168.3,248.5 C168.9,249.9 169.4,252.0 170.0,253.5 C170.6,255.0 170.7,255.3 171.6,257.7 C172.5,260.1 174.1,264.3 175.3,267.9 C176.5,271.4 177.8,275.4 179.0,279.0 C180.2,282.6 181.5,285.8 182.7,289.2 C183.9,292.6 185.2,296.5 186.4,299.5 C187.7,302.5 189.2,305.2 190.2,307.2 C191.2,309.2 191.7,310.4 192.3,311.3 C193.0,312.2 193.6,312.8 194.1,312.8 C194.6,312.8 195.1,312.2 195.6,311.3 C196.1,310.4 196.4,309.7 196.9,307.7 C197.4,305.7 197.9,302.1 198.3,299.5 C198.7,296.9 199.0,297.6 199.4,292.0 C199.8,286.4 200.1,274.7 200.6,266.2 C201.1,257.7 201.7,247.9 202.3,240.9 C202.9,233.9 203.5,231.0 204.0,224.0 C204.5,217.0 204.9,206.0 205.3,199.0 C205.7,192.0 206.1,186.7 206.5,182.0 C206.9,177.3 207.3,174.0 207.7,171.0 C208.1,168.0 208.5,165.9 209.0,164.0 C209.5,162.1 209.9,160.6 210.5,159.5 C211.1,158.4 211.7,157.5 212.4,157.5 C213.1,157.5 213.8,158.2 214.5,159.5 C215.2,160.8 215.9,162.8 216.6,165.0 C217.3,167.2 218.2,170.4 218.8,172.7 C219.5,174.9 219.8,176.4 220.5,178.5 C221.2,180.6 222.1,183.4 222.9,185.5 C223.7,187.6 224.2,188.9 225.1,190.9 C226.0,192.9 227.4,195.3 228.5,197.4 C229.6,199.5 230.6,201.3 231.9,203.3 C233.2,205.3 234.7,207.4 236.1,209.4 C237.5,211.4 238.7,213.4 240.2,215.6 C241.7,217.8 243.4,220.3 245.1,222.4 C246.8,224.5 248.5,226.4 250.2,228.0 C251.9,229.6 253.5,230.7 255.2,232.2 C256.9,233.7 258.6,235.2 260.3,236.8 C262.0,238.4 263.7,239.8 265.4,241.5 C267.1,243.2 269.1,245.6 270.4,246.9 C271.7,248.2 272.1,248.6 273.0,249.2 C273.9,249.8 274.7,250.4 275.7,250.3 C276.7,250.2 278.1,249.5 279.0,248.8 C279.9,248.1 280.4,247.2 281.4,245.9 C282.4,244.7 283.8,242.6 285.2,241.3 C286.6,240.0 288.5,238.1 290.1,237.9 C291.7,237.7 293.3,239.4 295.0,240.2 C296.7,241.0 298.8,243.0 300.3,242.8 C301.8,242.6 302.8,240.9 304.1,239.0 C305.4,237.1 306.8,233.4 307.9,231.5 C309.0,229.6 309.6,227.8 310.6,227.7 C311.6,227.6 312.6,229.2 314.0,230.7 C315.4,232.2 317.5,235.2 319.3,236.8 C321.1,238.5 322.8,239.3 324.6,240.6 C326.4,241.8 328.4,243.2 330.0,244.3 C331.6,245.4 332.5,246.4 334.4,247.3 C336.3,248.2 339.2,249.0 341.6,250.0 C344.0,251.0 346.4,252.2 348.8,253.2 C351.2,254.2 353.0,254.9 356.0,255.8 C359.0,256.7 363.2,257.8 366.8,258.6 C370.4,259.4 374.0,259.7 377.6,260.4 C381.2,261.1 384.8,262.0 388.4,262.6 C392.0,263.2 395.6,263.5 399.2,264.0 C402.8,264.5 406.4,265.0 410.0,265.5 C413.6,266.0 417.2,266.4 420.8,266.9 C424.4,267.4 428.0,267.8 431.6,268.4 C435.2,268.9 438.8,269.7 442.4,270.2 C446.0,270.7 450.2,270.8 453.2,271.2 C456.2,271.6 458.3,272.4 460.4,272.5 C462.5,272.6 463.7,272.1 465.8,272.0 C467.9,271.9 470.9,271.4 473.0,271.6 C475.1,271.8 476.3,272.4 478.4,273.0 C480.5,273.6 482.3,274.7 485.6,275.0 C488.9,275.3 492.9,275.2 498.0,275.0 C503.1,274.8 511.2,273.9 516.0,274.0 C520.8,274.1 523.2,275.1 526.8,275.4 C530.4,275.7 534.0,275.9 537.6,275.8 C541.2,275.7 544.2,274.4 548.4,274.5 C552.6,274.6 557.4,276.5 562.8,276.7 C568.2,276.9 574.8,276.1 580.8,275.8 C586.8,275.5 592.8,275.2 598.8,275.0 C604.8,274.8 611.1,274.7 616.8,274.5 C622.5,274.3 628.8,274.4 633.0,274.0 C637.2,273.6 639.5,272.6 642.0,272.2 C644.5,271.8 647.2,271.5 648.3,271.4 L648.3,283.4 C647.2,283.5 644.5,283.8 642.0,284.2 C639.5,284.6 637.2,285.6 633.0,286.0 C628.8,286.4 622.5,286.3 616.8,286.5 C611.1,286.7 604.8,286.8 598.8,287.0 C592.8,287.2 586.8,287.5 580.8,287.8 C574.8,288.1 568.2,288.9 562.8,288.7 C557.4,288.5 552.6,286.6 548.4,286.5 C544.2,286.4 541.2,287.7 537.6,287.8 C534.0,287.9 530.4,287.7 526.8,287.4 C523.2,287.1 520.8,286.1 516.0,286.0 C511.2,285.9 503.1,286.8 498.0,287.0 C492.9,287.2 488.9,287.3 485.6,287.0 C482.3,286.7 480.5,285.6 478.4,285.0 C476.3,284.4 475.1,283.8 473.0,283.6 C470.9,283.4 467.9,283.9 465.8,284.0 C463.7,284.1 462.5,284.6 460.4,284.5 C458.3,284.4 456.2,283.6 453.2,283.2 C450.2,282.8 446.0,282.7 442.4,282.2 C438.8,281.7 435.2,280.9 431.6,280.4 C428.0,279.8 424.4,279.4 420.8,278.9 C417.2,278.4 413.6,278.0 410.0,277.5 C406.4,277.0 402.8,276.5 399.2,276.0 C395.6,275.5 392.0,275.2 388.4,274.6 C384.8,274.0 381.2,273.1 377.6,272.4 C374.0,271.7 370.4,271.4 366.8,270.6 C363.2,269.8 359.0,268.7 356.0,267.8 C353.0,266.9 351.2,266.2 348.8,265.2 C346.4,264.2 344.0,263.0 341.6,262.0 C339.2,261.0 336.3,260.2 334.4,259.3 C332.5,258.4 331.6,257.4 330.0,256.3 C328.4,255.2 326.4,253.8 324.6,252.6 C322.8,251.3 321.1,250.5 319.3,248.8 C317.5,247.2 315.4,244.2 314.0,242.7 C312.6,241.2 311.6,239.6 310.6,239.7 C309.6,239.8 309.0,241.6 307.9,243.5 C306.8,245.4 305.4,249.1 304.1,251.0 C302.8,252.9 301.8,254.6 300.3,254.8 C298.8,255.0 296.7,253.0 295.0,252.2 C293.3,251.4 291.7,249.7 290.1,249.9 C288.5,250.1 286.6,252.0 285.2,253.3 C283.8,254.6 282.4,256.6 281.4,257.9 C280.4,259.1 279.9,260.1 279.0,260.8 C278.1,261.5 276.7,262.2 275.7,262.3 C274.7,262.4 273.9,261.8 273.0,261.2 C272.1,260.6 271.7,260.2 270.4,258.9 C269.1,257.6 267.1,255.2 265.4,253.5 C263.7,251.8 262.0,250.4 260.3,248.8 C258.6,247.2 256.9,245.7 255.2,244.2 C253.5,242.7 251.9,241.6 250.2,240.0 C248.5,238.4 246.8,236.5 245.1,234.4 C243.4,232.3 241.7,229.8 240.2,227.6 C238.7,225.4 237.5,223.4 236.1,221.4 C234.7,219.4 233.2,217.3 231.9,215.3 C230.6,213.3 229.6,211.5 228.5,209.4 C227.4,207.3 226.0,204.9 225.1,202.9 C224.2,200.9 223.7,199.6 222.9,197.5 C222.1,195.4 221.2,192.6 220.5,190.5 C219.8,188.4 219.5,186.9 218.8,184.7 C218.2,182.4 217.3,179.2 216.6,177.0 C215.9,174.8 215.2,172.8 214.5,171.5 C213.8,170.2 213.1,169.5 212.4,169.5 C211.7,169.5 211.1,170.4 210.5,171.5 C209.9,172.6 209.5,174.1 209.0,176.0 C208.5,177.9 208.1,180.0 207.7,183.0 C207.3,186.0 206.9,189.3 206.5,194.0 C206.1,198.7 205.7,204.0 205.3,211.0 C204.9,218.0 204.5,229.0 204.0,236.0 C203.5,243.0 202.9,245.9 202.3,252.9 C201.7,259.9 201.1,269.7 200.6,278.2 C200.1,286.7 199.8,297.1 199.4,304.0 C199.0,310.9 198.7,315.6 198.3,319.5 C197.9,323.4 197.4,325.7 196.9,327.7 C196.4,329.7 196.1,330.4 195.6,331.3 C195.1,332.2 194.6,332.8 194.1,332.8 C193.6,332.8 193.0,332.2 192.3,331.3 C191.7,330.4 191.2,330.5 190.2,327.2 C189.2,323.9 187.7,315.8 186.4,311.5 C185.2,307.2 183.9,304.6 182.7,301.2 C181.5,297.8 180.2,294.6 179.0,291.0 C177.8,287.4 176.5,283.4 175.3,279.9 C174.1,276.3 172.5,272.1 171.6,269.7 C170.7,267.3 170.6,267.0 170.0,265.5 C169.4,264.0 168.9,261.9 168.3,260.5 C167.8,259.1 167.3,257.9 166.7,256.8 C166.1,255.7 165.5,254.7 164.9,253.8 C164.3,252.9 163.7,252.2 163.0,251.5 C162.3,250.8 161.6,250.3 160.8,249.8 C160.0,249.3 158.9,248.8 158.0,248.3 C157.1,247.9 156.4,247.6 155.4,247.1 C154.4,246.6 153.1,246.2 152.0,245.5 C150.9,244.8 149.7,243.9 148.7,243.0 C147.7,242.1 146.9,241.1 146.0,240.0 C145.1,238.9 144.2,237.7 143.3,236.3 C142.4,234.9 141.4,233.4 140.5,231.8 C139.6,230.2 138.7,228.4 137.9,226.8 C137.1,225.2 136.6,223.8 135.9,222.2 C135.2,220.6 134.6,219.0 133.9,217.4 C133.2,215.8 132.5,214.1 131.8,212.5 C131.1,210.9 130.5,209.6 129.8,208.0 C129.1,206.4 128.5,204.6 127.8,203.0 C127.1,201.4 126.5,199.9 125.8,198.5 C125.1,197.1 124.5,195.6 123.8,194.5 C123.1,193.4 122.0,192.2 121.7,191.8 Z" fill="#0072BD" fill-opacity="0.25" stroke="none"/>
<path d="M121.7,185.8 C122.0,186.2 123.1,187.4 123.8,188.5 C124.5,189.6 125.1,191.1 125.8,192.5 C126.5,193.9 127.1,195.4 127.8,197.0 C128.5,198.6 129.1,200.4 129.8,202.0 C130.5,203.6 131.1,204.9 131.8,206.5 C132.5,208.1 133.2,209.8 133.9,211.4 C134.6,213.0 135.2,214.6 135.9,216.2 C136.6,217.8 137.1,219.2 137.9,220.8 C138.7,222.4 139.6,224.2 140.5,225.8 C141.4,227.4 142.4,228.9 143.3,230.3 C144.2,231.7 145.1,232.9 146.0,234.0 C146.9,235.1 147.7,236.1 148.7,237.0 C149.7,237.9 150.9,238.8 152.0,239.5 C153.1,240.2 154.4,240.6 155.4,241.1 C156.4,241.6 157.1,241.9 158.0,242.3 C158.9,242.8 160.0,243.3 160.8,243.8 C161.6,244.3 162.3,244.8 163.0,245.5 C163.7,246.2 164.3,246.9 164.9,247.8 C165.5,248.7 166.1,249.7 166.7,250.8 C167.3,251.9 167.8,253.1 168.3,254.5 C168.9,255.9 169.4,258.0 170.0,259.5 C170.6,261.0 170.7,261.3 171.6,263.7 C172.5,266.1 174.1,270.3 175.3,273.9 C176.5,277.4 177.8,281.4 179.0,285.0 C180.2,288.6 181.5,291.8 182.7,295.2 C183.9,298.6 185.2,302.1 186.4,305.5 C187.7,308.9 189.2,313.3 190.2,315.7 C191.2,318.1 191.7,318.9 192.3,319.8 C193.0,320.7 193.6,321.3 194.1,321.3 C194.6,321.3 195.1,320.7 195.6,319.8 C196.1,318.9 196.4,318.2 196.9,316.2 C197.4,314.2 197.9,311.0 198.3,308.0 C198.7,305.0 199.0,304.0 199.4,298.0 C199.8,292.0 200.1,280.7 200.6,272.2 C201.1,263.7 201.7,253.9 202.3,246.9 C202.9,239.9 203.5,237.0 204.0,230.0 C204.5,223.0 204.9,212.0 205.3,205.0 C205.7,198.0 206.1,192.7 206.5,188.0 C206.9,183.3 207.3,180.0 207.7,177.0 C208.1,174.0 208.5,171.9 209.0,170.0 C209.5,168.1 209.9,166.6 210.5,165.5 C211.1,164.4 211.7,163.5 212.4,163.5 C213.1,163.5 213.8,164.2 214.5,165.5 C215.2,166.8 215.9,168.8 216.6,171.0 C217.3,173.2 218.2,176.4 218.8,178.7 C219.5,180.9 219.8,182.4 220.5,184.5 C221.2,186.6 222.1,189.4 222.9,191.5 C223.7,193.6 224.2,194.9 225.1,196.9 C226.0,198.9 227.4,201.3 228.5,203.4 C229.6,205.5 230.6,207.3 231.9,209.3 C233.2,211.3 234.7,213.4 236.1,215.4 C237.5,217.4 238.7,219.4 240.2,221.6 C241.7,223.8 243.4,226.3 245.1,228.4 C246.8,230.5 248.5,232.4 250.2,234.0 C251.9,235.6 253.5,236.7 255.2,238.2 C256.9,239.7 258.6,241.2 260.3,242.8 C262.0,244.4 263.7,245.8 265.4,247.5 C267.1,249.2 269.1,251.6 270.4,252.9 C271.7,254.2 272.1,254.6 273.0,255.2 C273.9,255.8 274.7,256.4 275.7,256.3 C276.7,256.2 278.1,255.5 279.0,254.8 C279.9,254.1 280.4,253.2 281.4,251.9 C282.4,250.7 283.8,248.6 285.2,247.3 C286.6,246.0 288.5,244.1 290.1,243.9 C291.7,243.7 293.3,245.4 295.0,246.2 C296.7,247.0 298.8,249.0 300.3,248.8 C301.8,248.6 302.8,246.9 304.1,245.0 C305.4,243.1 306.8,239.4 307.9,237.5 C309.0,235.6 309.6,233.8 310.6,233.7 C311.6,233.6 312.6,235.2 314.0,236.7 C315.4,238.2 317.5,241.2 319.3,242.8 C321.1,244.5 322.8,245.3 324.6,246.6 C326.4,247.8 328.4,249.2 330.0,250.3 C331.6,251.4 332.5,252.4 334.4,253.3 C336.3,254.2 339.2,255.0 341.6,256.0 C344.0,257.0 346.4,258.2 348.8,259.2 C351.2,260.2 353.0,260.9 356.0,261.8 C359.0,262.7 363.2,263.8 366.8,264.6 C370.4,265.4 374.0,265.7 377.6,266.4 C381.2,267.1 384.8,268.0 388.4,268.6 C392.0,269.2 395.6,269.5 399.2,270.0 C402.8,270.5 406.4,271.0 410.0,271.5 C413.6,272.0 417.2,272.4 420.8,272.9 C424.4,273.4 428.0,273.8 431.6,274.4 C435.2,274.9 438.8,275.7 442.4,276.2 C446.0,276.7 450.2,276.8 453.2,277.2 C456.2,277.6 458.3,278.4 460.4,278.5 C462.5,278.6 463.7,278.1 465.8,278.0 C467.9,277.9 470.9,277.4 473.0,277.6 C475.1,277.8 476.3,278.4 478.4,279.0 C480.5,279.6 482.3,280.7 485.6,281.0 C488.9,281.3 492.9,281.2 498.0,281.0 C503.1,280.8 511.2,279.9 516.0,280.0 C520.8,280.1 523.2,281.1 526.8,281.4 C530.4,281.7 534.0,281.9 537.6,281.8 C541.2,281.7 544.2,280.4 548.4,280.5 C552.6,280.6 557.4,282.5 562.8,282.7 C568.2,282.9 574.8,282.1 580.8,281.8 C586.8,281.5 592.8,281.2 598.8,281.0 C604.8,280.8 611.1,280.7 616.8,280.5 C622.5,280.3 628.8,280.4 633.0,280.0 C637.2,279.6 639.5,278.6 642.0,278.2 C644.5,277.8 647.2,277.5 648.3,277.4" fill="none" stroke="#0072BD" stroke-width="2.9" stroke-linejoin="round"/>
</g>
<text x="172.17" y="548.00" font-family="Liberation Serif, serif" font-size="27.5" fill="#262626" textLength="40.56" lengthAdjust="spacingAndGlyphs">400</text>
<text x="301.84" y="548.00" font-family="Liberation Serif, serif" font-size="27.5" fill="#262626" textLength="41.23" lengthAdjust="spacingAndGlyphs">600</text>
<text x="432.30" y="548.00" font-family="Liberation Serif, serif" font-size="27.5" fill="#262626" textLength="41.09" lengthAdjust="spacingAndGlyphs">800</text>
<text x="555.16" y="548.00" font-family="Liberation Serif, serif" font-size="27.5" fill="#262626" textLength="54.64" lengthAdjust="spacingAndGlyphs">1000</text>
<text x="685.48" y="548.00" font-family="Liberation Serif, serif" font-size="27.5" fill="#262626" textLength="54.64" lengthAdjust="spacingAndGlyphs">1200</text>
<text x="815.80" y="548.00" font-family="Liberation Serif, serif" font-size="27.5" fill="#262626" textLength="54.64" lengthAdjust="spacingAndGlyphs">1400</text>
<text x="946.12" y="548.00" font-family="Liberation Serif, serif" font-size="27.5" fill="#262626" textLength="54.64" lengthAdjust="spacingAndGlyphs">1600</text>
<text x="42.23" y="445.00" font-family="Liberation Serif, serif" font-size="27.2" fill="#262626" textLength="35.17" lengthAdjust="spacingAndGlyphs">1.5</text>
<text x="63.43" y="317.85" font-family="Liberation Serif, serif" font-size="27.2" fill="#262626" textLength="14.47" lengthAdjust="spacingAndGlyphs">2</text>
<text x="42.58" y="190.70" font-family="Liberation Serif, serif" font-size="27.2" fill="#262626" textLength="34.81" lengthAdjust="spacingAndGlyphs">2.5</text>
<text x="63.58" y="63.55" font-family="Liberation Serif, serif" font-size="27.2" fill="#262626" textLength="13.80" lengthAdjust="spacingAndGlyphs">3</text>
<path d="M92.3,9.2 L104.7,21.6 M92.3,21.6 L104.7,9.2" stroke="#262626" stroke-width="1.45" fill="none"/>
<text x="108.45" y="21.90" font-family="Liberation Serif, serif" font-size="27.0" fill="#262626" textLength="27.92" lengthAdjust="spacingAndGlyphs">10</text>
<path d="M137.1,7.35 H148.8" stroke="#262626" stroke-width="1.2" fill="none"/>
<text x="150.65" y="12.00" font-family="Liberation Serif, serif" font-size="18.2" fill="#262626" textLength="8.93" lengthAdjust="spacingAndGlyphs">4</text>
<text x="364.40" y="585.00" font-family="Liberation Serif, serif" font-size="30.5" fill="#262626" textLength="98.49" lengthAdjust="spacingAndGlyphs">vacuum</text>
<text x="474.97" y="585.00" font-family="Liberation Serif, serif" font-size="30.5" fill="#262626" textLength="140.03" lengthAdjust="spacingAndGlyphs">wavelength</text>
<text x="628.06" y="585.00" font-family="Liberation Serif, serif" font-size="30.5" font-style="italic" fill="#262626" textLength="15.32" lengthAdjust="spacingAndGlyphs">λ</text>
<path d="M645.2,592.8 L656.2,562.0" stroke="#262626" stroke-width="1.5" fill="none"/>
<text x="657.95" y="585.00" font-family="Liberation Serif, serif" font-size="30.5" fill="#262626" textLength="41.66" lengthAdjust="spacingAndGlyphs">nm</text>
<text x="-444.74" y="0" font-family="Liberation Serif, serif" font-size="32.0" fill="#262626" textLength="32.80" lengthAdjust="spacingAndGlyphs" transform="translate(24.80,0) rotate(-90)">RI</text>
<text x="-402.46" y="0" font-family="Liberation Serif, serif" font-size="32.0" fill="#262626" textLength="126.05" lengthAdjust="spacingAndGlyphs" transform="translate(24.80,0) rotate(-90)">increment</text>
<text x="-265.23" y="0" font-family="Liberation Serif, serif" font-size="32.0" font-style="italic" fill="#262626" textLength="18.16" lengthAdjust="spacingAndGlyphs" transform="translate(24.80,0) rotate(-90)">α</text>
<text x="-243.35" y="0" font-family="Liberation Serif, serif" font-size="32.0" fill="#262626" textLength="8.69" lengthAdjust="spacingAndGlyphs" transform="translate(24.80,0) rotate(-90)">(</text>
<text x="-231.96" y="0" font-family="Liberation Serif, serif" font-size="32.0" font-style="italic" fill="#262626" textLength="14.92" lengthAdjust="spacingAndGlyphs" transform="translate(24.80,0) rotate(-90)">λ</text>
<text x="-215.97" y="0" font-family="Liberation Serif, serif" font-size="32.0" fill="#262626" textLength="7.91" lengthAdjust="spacingAndGlyphs" transform="translate(24.80,0) rotate(-90)">)</text>
<path d="M31.6,204.2 L1.4,192.5" stroke="#262626" stroke-width="1.5" fill="none"/>
<text x="-189.59" y="0" font-family="Liberation Serif, serif" font-size="32.0" fill="#262626" textLength="10.50" lengthAdjust="spacingAndGlyphs" transform="translate(24.80,0) rotate(-90)">(</text>
<text x="-180.16" y="0" font-family="Liberation Serif, serif" font-size="32.0" fill="#262626" textLength="20.36" lengthAdjust="spacingAndGlyphs" transform="translate(24.80,0) rotate(-90)">L</text>
<text x="-157.11" y="0" font-family="Liberation Serif, serif" font-size="32.0" fill="#262626" textLength="16.44" lengthAdjust="spacingAndGlyphs" transform="translate(24.80,0) rotate(-90)">g</text>
<path d="M8.3,139.8 V125.3" stroke="#262626" stroke-width="1.2" fill="none"/>
<text x="-125.70" y="0" font-family="Liberation Serif, serif" font-size="19.5" fill="#262626" textLength="10.79" lengthAdjust="spacingAndGlyphs" transform="translate(14.40,0) rotate(-90)">1</text>
<text x="-110.97" y="0" font-family="Liberation Serif, serif" font-size="32.0" fill="#262626" textLength="7.91" lengthAdjust="spacingAndGlyphs" transform="translate(24.80,0) rotate(-90)">)</text>
<rect x="762.3" y="54.2" width="189.9" height="219.2" fill="#fff" stroke="#262626" stroke-width="1.2"/>
<path d="M770.5,70.6 H851.0" stroke="#77AC30" stroke-width="3.2" stroke-dasharray="16 6.6 3.6 6.4"/>
<path d="M770.5,97.3 H851.0" stroke="#1a1a1a" stroke-width="2.8"/>
<path d="M770.5,123.9 H851.0" stroke="#D95319" stroke-width="2.9"/>
<path d="M810.7,140.0 V160.6 M802.5,140.0 H818.9 M802.5,160.6 H818.9 M790.3,150.3 H831.4 M790.3,142.3 V158.3 M831.4,142.3 V158.3" stroke="#000" stroke-width="1.7" fill="none"/>
<path d="M770.5,177.3 H848.0" stroke="#7E2F8E" stroke-width="1.2" stroke-dasharray="2 5.4"/>
<path d="M810.7,166.9 V187.7 M802.5,166.9 H818.9 M802.5,187.7 H818.9" stroke="#7E2F8E" stroke-width="1.7" fill="none"/>
<rect x="806.7" y="173.3" width="8" height="8" fill="#fff" stroke="#7E2F8E" stroke-width="1.7"/>
<path d="M810.7,173.3 V181.3" stroke="#7E2F8E" stroke-width="1.3"/>
<circle cx="810.7" cy="204.0" r="6.6" fill="none" stroke="#4DBEEE" stroke-width="2.2"/>
<path d="M770.5,230.7 H851.0" stroke="#EDB120" stroke-width="1.9"/>
<path d="M770.5,257.1 H851.0" stroke="#0072BD" stroke-width="2.9"/>
<text x="856.75" y="76.20" font-family="Liberation Serif, serif" font-size="22.5" fill="#000" textLength="38.24" lengthAdjust="spacingAndGlyphs">Ref.</text>
<text x="904.33" y="76.20" font-family="Liberation Serif, serif" font-size="22.5" fill="#000" textLength="22.11" lengthAdjust="spacingAndGlyphs">28</text>
<text x="856.75" y="102.90" font-family="Liberation Serif, serif" font-size="22.5" fill="#000" textLength="38.24" lengthAdjust="spacingAndGlyphs">Ref.</text>
<text x="904.24" y="102.90" font-family="Liberation Serif, serif" font-size="22.5" fill="#000" textLength="22.21" lengthAdjust="spacingAndGlyphs">38</text>
<text x="856.75" y="129.50" font-family="Liberation Serif, serif" font-size="22.5" fill="#000" textLength="38.24" lengthAdjust="spacingAndGlyphs">Ref.</text>
<text x="904.23" y="129.50" font-family="Liberation Serif, serif" font-size="22.5" fill="#000" textLength="22.28" lengthAdjust="spacingAndGlyphs">39</text>
<text x="856.75" y="155.90" font-family="Liberation Serif, serif" font-size="22.5" fill="#000" textLength="38.24" lengthAdjust="spacingAndGlyphs">Ref.</text>
<text x="904.22" y="155.90" font-family="Liberation Serif, serif" font-size="22.5" fill="#000" textLength="22.63" lengthAdjust="spacingAndGlyphs">32</text>
<text x="856.75" y="182.90" font-family="Liberation Serif, serif" font-size="22.5" fill="#000" textLength="38.24" lengthAdjust="spacingAndGlyphs">Ref.</text>
<text x="904.24" y="182.90" font-family="Liberation Serif, serif" font-size="22.5" fill="#000" textLength="22.23" lengthAdjust="spacingAndGlyphs">35</text>
<text x="856.75" y="209.60" font-family="Liberation Serif, serif" font-size="22.5" fill="#000" textLength="38.24" lengthAdjust="spacingAndGlyphs">Ref.</text>
<text x="904.26" y="209.60" font-family="Liberation Serif, serif" font-size="22.5" fill="#000" textLength="21.68" lengthAdjust="spacingAndGlyphs">34</text>
<text x="856.75" y="236.30" font-family="Liberation Serif, serif" font-size="22.5" fill="#000" textLength="38.24" lengthAdjust="spacingAndGlyphs">Ref.</text>
<text x="904.24" y="236.30" font-family="Liberation Serif, serif" font-size="22.5" fill="#000" textLength="22.23" lengthAdjust="spacingAndGlyphs">33</text>
<text x="857.17" y="262.70" font-family="Liberation Serif, serif" font-size="22.5" fill="#000" textLength="34.70" lengthAdjust="spacingAndGlyphs">this</text>
<text x="900.38" y="262.70" font-family="Liberation Serif, serif" font-size="22.5" fill="#000" textLength="44.12" lengthAdjust="spacingAndGlyphs">work</text>
</svg>
</body></html>
